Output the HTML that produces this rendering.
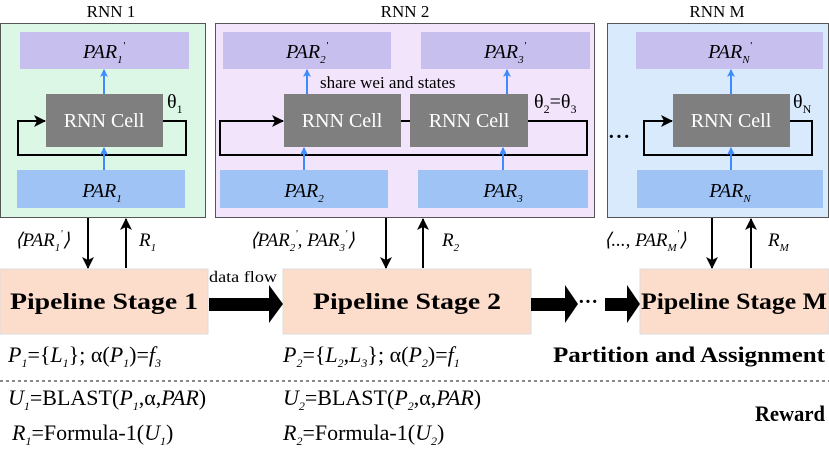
<!DOCTYPE html>
<html><head><style>body{margin:0;background:#fff}svg{display:block}text{font-family:"Liberation Serif",serif}</style></head><body>
<svg width="829" height="457" viewBox="0 0 829 457" xmlns="http://www.w3.org/2000/svg">
<defs>
<marker id="bl" markerWidth="8" markerHeight="8" refX="7" refY="4" orient="auto" markerUnits="userSpaceOnUse"><path d="M0,0 L8,4 L0,8 L2,4 Z" fill="#3d8bff"/></marker>
<marker id="bk" markerWidth="12" markerHeight="12" refX="11" refY="6" orient="auto" markerUnits="userSpaceOnUse"><path d="M0,0 L12,6 L0,12 L3,6 Z" fill="#000"/></marker>
</defs>
<g font-size="17" text-anchor="middle">
<text x="111" y="17">RNN 1</text><text x="405" y="17">RNN 2</text><text x="717" y="17">RNN M</text>
</g>
<rect x="0.5" y="23.5" width="205" height="194" fill="#dcf7e6" stroke="#555"/>
<rect x="215.5" y="23.5" width="379" height="194" fill="#f1e4fb" stroke="#555"/>
<rect x="607.5" y="23.5" width="221" height="194" fill="#d8eafc" stroke="#555"/>
<g fill="#c7c0ef"><rect x="20" y="32" width="169" height="37"/><rect x="223" y="32" width="168" height="37"/><rect x="421" y="32" width="169" height="37"/><rect x="636" y="32" width="187" height="37"/></g>
<g fill="#9fc3f5"><rect x="17" y="170" width="168" height="38"/><rect x="220" y="170" width="168" height="38"/><rect x="418" y="170" width="170" height="38"/><rect x="637" y="170" width="186" height="38"/></g>
<g fill="none" stroke="#000" stroke-width="2">
<path d="M163,121 H186 V155 H18 V121 H45" marker-end="url(#bk)"/>
<path d="M528,121 H587 V155 H220 V121 H283" marker-end="url(#bk)"/>
<path d="M401,121 H410"/>
<path d="M790,121 H812 V155 H644 V121 H672" marker-end="url(#bk)"/>
</g>
<g fill="#7f7f7f"><rect x="46" y="94" width="117" height="53"/><rect x="284" y="94" width="117" height="53"/><rect x="410" y="94" width="118" height="53"/><rect x="673" y="94" width="117" height="53"/></g>
<g fill="#fff" font-size="20" text-anchor="middle"><text x="104" y="127">RNN Cell</text><text x="342" y="127">RNN Cell</text><text x="469" y="127">RNN Cell</text><text x="731" y="127">RNN Cell</text></g>
<g stroke="#3d8bff" stroke-width="2" marker-end="url(#bl)">
<line x1="104" y1="94" x2="104" y2="70"/><line x1="104" y1="170" x2="104" y2="148"/>
<line x1="307" y1="94" x2="307" y2="70"/><line x1="304" y1="170" x2="304" y2="148"/>
<line x1="507" y1="94" x2="507" y2="70"/><line x1="503" y1="170" x2="503" y2="148"/>
<line x1="731" y1="94" x2="731" y2="70"/><line x1="731" y1="170" x2="731" y2="148"/>
</g>
<g font-size="20" font-style="italic" text-anchor="middle">
<text x="104" y="58">PAR<tspan font-size="11" dy="5">1</tspan><tspan font-size="11" dy="-14">'</tspan></text>
<text x="307" y="58">PAR<tspan font-size="11" dy="5">2</tspan><tspan font-size="11" dy="-14">'</tspan></text>
<text x="505" y="58">PAR<tspan font-size="11" dy="5">3</tspan><tspan font-size="11" dy="-14">'</tspan></text>
<text x="730" y="58">PAR<tspan font-size="11" dy="5">N</tspan><tspan font-size="11" dy="-14">'</tspan></text>
<text x="102" y="197">PAR<tspan font-size="11" dy="5">1</tspan></text>
<text x="304" y="197">PAR<tspan font-size="11" dy="5">2</tspan></text>
<text x="503" y="197">PAR<tspan font-size="11" dy="5">3</tspan></text>
<text x="730" y="197">PAR<tspan font-size="11" dy="5">N</tspan></text>
</g>
<g font-size="20">
<text x="167" y="108">θ<tspan font-size="12" dy="5">1</tspan></text>
<text x="534" y="108">θ<tspan font-size="12" dy="5">2</tspan><tspan dy="-5">=θ</tspan><tspan font-size="12" dy="5">3</tspan></text>
<text x="793" y="108">θ<tspan font-size="12" dy="5">N</tspan></text>
</g>
<text x="320" y="88" font-size="17">share wei and states</text>
<text x="608" y="143" font-size="20" font-weight="bold" letter-spacing="1">···</text>
<g stroke="#000" stroke-width="2" marker-end="url(#bk)">
<line x1="88" y1="218" x2="88" y2="268"/><line x1="126" y1="268" x2="126" y2="219"/>
<line x1="386" y1="218" x2="386" y2="268"/><line x1="423" y1="268" x2="423" y2="219"/>
<line x1="712" y1="218" x2="712" y2="268"/><line x1="751" y1="268" x2="751" y2="219"/>
</g>
<g font-size="19" font-style="italic">
<text x="15" y="246">⟨PAR<tspan font-size="11" dy="5">1</tspan><tspan font-size="11" dy="-14">'</tspan><tspan dy="9">⟩</tspan></text>
<text x="139" y="246">R<tspan font-size="11" dy="5">1</tspan></text>
<text x="250" y="246">⟨PAR<tspan font-size="11" dy="5">2</tspan><tspan font-size="11" dy="-14">'</tspan><tspan dy="9">, PAR</tspan><tspan font-size="11" dy="5">3</tspan><tspan font-size="11" dy="-14">'</tspan><tspan dy="9">⟩</tspan></text>
<text x="442" y="246">R<tspan font-size="11" dy="5">2</tspan></text>
<text x="604" y="246">⟨..., PAR<tspan font-size="11" dy="5">M</tspan><tspan font-size="11" dy="-14">'</tspan><tspan dy="9">⟩</tspan></text>
<text x="768" y="246">R<tspan font-size="11" dy="5">M</tspan></text>
</g>
<g fill="#fcdccb" stroke="#ddd"><rect x="0" y="269" width="208" height="65"/><rect x="283" y="269" width="248" height="65"/><rect x="640" y="269" width="189" height="65"/></g>
<g font-size="23" font-weight="bold" text-anchor="middle">
<text x="104" y="309" textLength="188" lengthAdjust="spacingAndGlyphs">Pipeline Stage 1</text>
<text x="407" y="309" textLength="188" lengthAdjust="spacingAndGlyphs">Pipeline Stage 2</text>
<text x="734" y="309" textLength="186" lengthAdjust="spacingAndGlyphs">Pipeline Stage M</text>
</g>
<text x="209" y="282" font-size="16" textLength="68" lengthAdjust="spacingAndGlyphs">data flow</text>
<g fill="#000">
<path d="M209,298 H269 V285 L283,304 L269,323 V311 H209 Z"/>
<path d="M531,298 H565 V285 L578,304 L565,323 V311 H531 Z"/>
<path d="M605,298 H627 V285 L640,304 L627,323 V311 H605 Z"/>
</g>
<text x="588" y="308" font-size="20" text-anchor="middle" font-weight="bold">···</text>
<g font-size="22">
<text x="8" y="362"><tspan font-style="italic">P</tspan><tspan font-size="12" dy="5" font-style="italic">1</tspan><tspan dy="-5">={</tspan><tspan font-style="italic">L</tspan><tspan font-size="12" dy="5" font-style="italic">1</tspan><tspan dy="-5">}; α(</tspan><tspan font-style="italic">P</tspan><tspan font-size="12" dy="5" font-style="italic">1</tspan><tspan dy="-5">)=</tspan><tspan font-style="italic">f</tspan><tspan font-size="12" dy="5" font-style="italic">3</tspan></text>
<text x="283" y="362"><tspan font-style="italic">P</tspan><tspan font-size="12" dy="5" font-style="italic">2</tspan><tspan dy="-5">={</tspan><tspan font-style="italic">L</tspan><tspan font-size="12" dy="5" font-style="italic">2</tspan><tspan dy="-5">,</tspan><tspan font-style="italic">L</tspan><tspan font-size="12" dy="5" font-style="italic">3</tspan><tspan dy="-5">}; α(</tspan><tspan font-style="italic">P</tspan><tspan font-size="12" dy="5" font-style="italic">2</tspan><tspan dy="-5">)=</tspan><tspan font-style="italic">f</tspan><tspan font-size="12" dy="5" font-style="italic">1</tspan></text>
<text x="8" y="405"><tspan font-style="italic">U</tspan><tspan font-size="12" dy="5" font-style="italic">1</tspan><tspan dy="-5">=BLAST(</tspan><tspan font-style="italic">P</tspan><tspan font-size="12" dy="5" font-style="italic">1</tspan><tspan dy="-5">,α,</tspan><tspan font-style="italic">PAR</tspan>)</text>
<text x="283" y="405"><tspan font-style="italic">U</tspan><tspan font-size="12" dy="5" font-style="italic">2</tspan><tspan dy="-5">=BLAST(</tspan><tspan font-style="italic">P</tspan><tspan font-size="12" dy="5" font-style="italic">2</tspan><tspan dy="-5">,α,</tspan><tspan font-style="italic">PAR</tspan>)</text>
<text x="12" y="440"><tspan font-style="italic">R</tspan><tspan font-size="12" dy="5" font-style="italic">1</tspan><tspan dy="-5">=Formula-1(</tspan><tspan font-style="italic">U</tspan><tspan font-size="12" dy="5" font-style="italic">1</tspan><tspan dy="-5">)</tspan></text>
<text x="283" y="440"><tspan font-style="italic">R</tspan><tspan font-size="12" dy="5" font-style="italic">2</tspan><tspan dy="-5">=Formula-1(</tspan><tspan font-style="italic">U</tspan><tspan font-size="12" dy="5" font-style="italic">2</tspan><tspan dy="-5">)</tspan></text>
</g>
<g font-size="22" font-weight="bold" text-anchor="end">
<text x="825" y="362" textLength="272" lengthAdjust="spacingAndGlyphs">Partition and Assignment</text>
<text x="825" y="421" textLength="70" lengthAdjust="spacingAndGlyphs">Reward</text>
</g>
<line x1="0" y1="381" x2="829" y2="381" stroke="#888" stroke-width="2" stroke-dasharray="3,3"/>
</svg>
</body></html>
